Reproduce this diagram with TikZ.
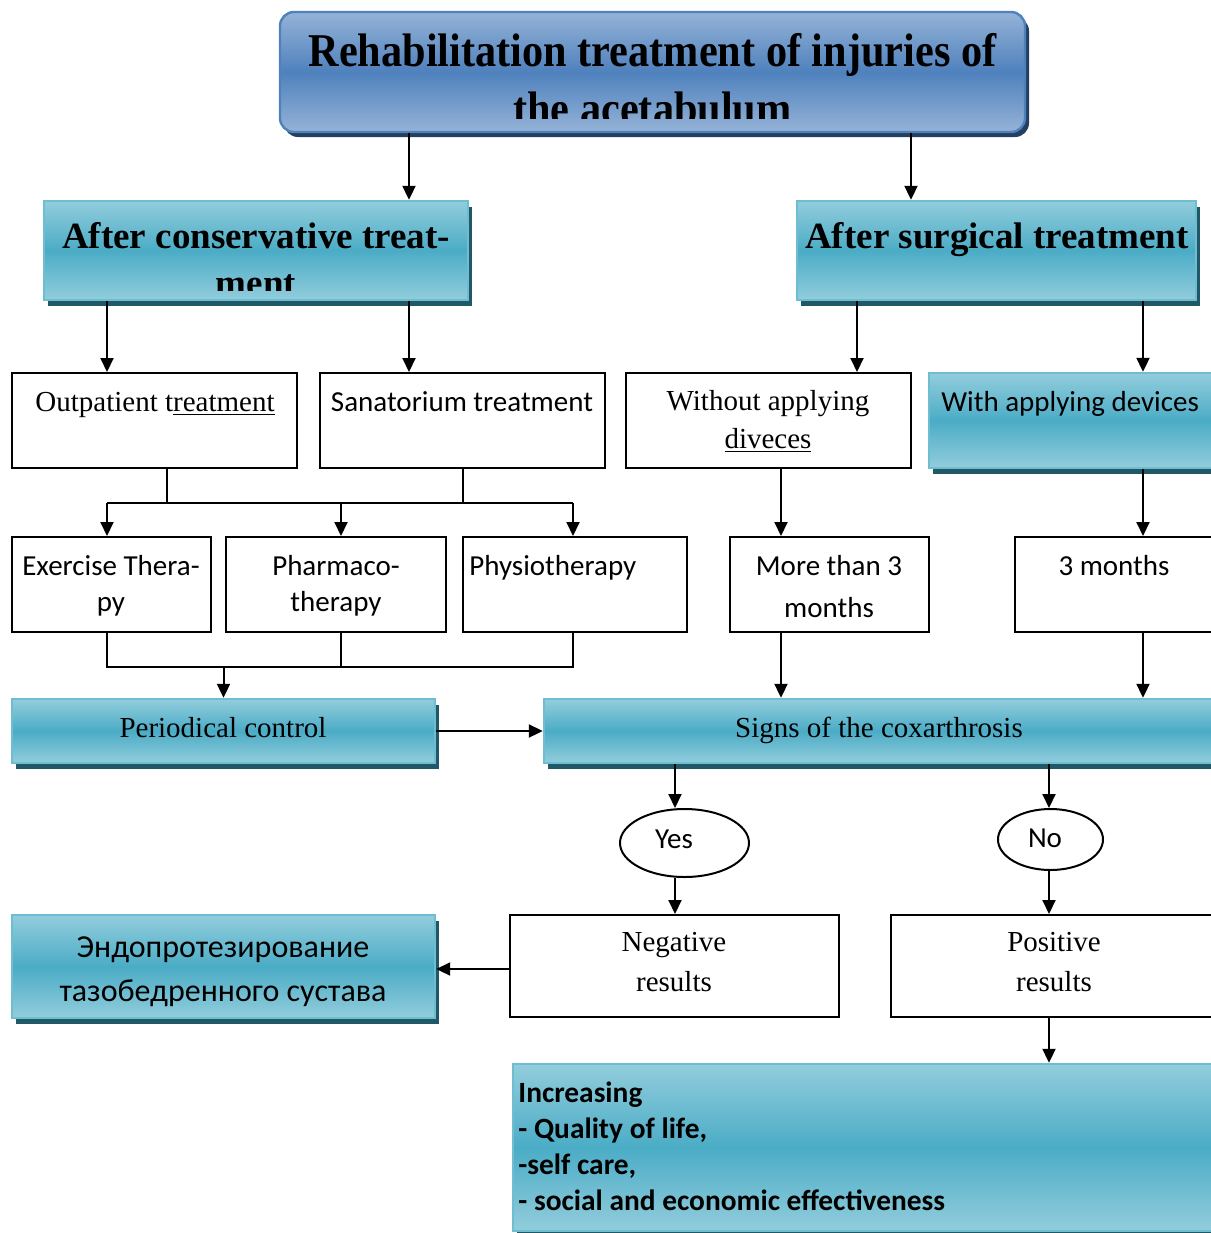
\documentclass[tikz,border=0pt]{standalone}
\usepackage{fontspec}
\setmainfont{Liberation Serif}
\newfontfamily\calfont{Carlito}
\newfontfamily\headfont[FakeStretch=0.9]{Liberation Serif}
\usetikzlibrary{arrows.meta,shapes.geometric,shadows}

\definecolor{blueL}{HTML}{95B3D7}
\definecolor{blueM}{HTML}{4F81BD}
\definecolor{blueD}{HTML}{243F60}
\definecolor{tealL}{HTML}{92CDDC}
\definecolor{tealM}{HTML}{4BACC6}
\definecolor{tealD}{HTML}{205867}

\begin{document}
\begin{tikzpicture}[x=0.5pt,y=-0.5pt]
  \tikzset{TitleStyle/.style = {shape          = rectangle,
                                rounded corners = 7pt,
                                draw           = blueM,
                                line width     = 1.2pt,
                                top color      = blueL,
                                bottom color   = blueL,
                                middle color   = blueM,
                                inner sep      = 0pt,
                                drop shadow    = {shadow xshift=2pt,shadow yshift=-2.5pt,
                                                  fill=blueD,opacity=1}}}
  \tikzset{TealStyle/.style  = {shape          = rectangle,
                                draw           = tealM!80!white,
                                line width     = 1.2pt,
                                top color      = tealL,
                                bottom color   = tealL,
                                middle color   = tealM,
                                inner sep      = 0pt,
                                drop shadow    = {shadow xshift=2pt,shadow yshift=-3pt,
                                                  fill=tealD,opacity=1}}}
  \tikzset{PlainStyle/.style = {shape          = rectangle,
                                draw           = black,
                                fill           = white,
                                line width     = 1pt,
                                inner sep      = 0pt}}
  \tikzset{OvalStyle/.style  = {shape          = ellipse,
                                draw           = black,
                                fill           = white,
                                line width     = 1pt,
                                inner sep      = 0pt}}
  \tikzset{SerifText/.style  = {anchor=base, inner sep=0pt,
                                font=\fontsize{14.5}{17}\selectfont}}
  \tikzset{SansText/.style   = {anchor=base, inner sep=0pt,
                                font=\calfont\fontsize{14.5}{17}\selectfont}}
  \tikzset{BoldSans/.style   = {anchor=base west, inner sep=0pt,
                                font=\calfont\bfseries\fontsize{14.7}{17}\selectfont}}
  \tikzset{HeadText/.style   = {anchor=base, inner sep=0pt,
                                font=\bfseries\fontsize{18.5}{22}\selectfont}}
  \tikzset{LineStyle/.style  = {line width=1pt}}
  \tikzset{ArrowStyle/.style = {line width=1pt,
                                -{Triangle[length=7pt,width=6.5pt]}}}

\clip (0,0) rectangle (1211,1233);

% boxes
\node[TitleStyle, minimum width=372.5pt, minimum height=60pt] (Title)   at (652.5,72)    {};
\node[TealStyle,  minimum width=212pt,   minimum height=49.5pt] (Consv) at (256,250.5)   {};
\node[TealStyle,  minimum width=199.5pt, minimum height=49.5pt] (Surg)  at (996.5,250.5) {};
\node[PlainStyle, minimum width=142.5pt, minimum height=47.5pt] (Outp)  at (154.5,420.5) {};
\node[PlainStyle, minimum width=142.5pt, minimum height=47.5pt] (Sanat) at (462.5,420.5) {};
\node[PlainStyle, minimum width=142.5pt, minimum height=47.5pt] (Without) at (768.5,420.5) {};
\node[TealStyle,  minimum width=148pt,   minimum height=47.5pt] (WithDev) at (1077,420.5) {};
\node[PlainStyle, minimum width=99.5pt,  minimum height=47.5pt] (Exer)  at (111.5,584.5) {};
\node[PlainStyle, minimum width=110pt,   minimum height=47.5pt] (Pharm) at (336,584.5)   {};
\node[PlainStyle, minimum width=112pt,   minimum height=47.5pt] (Physio) at (575,584.5)  {};
\node[PlainStyle, minimum width=99.5pt,  minimum height=47.5pt] (More3) at (829.5,584.5) {};
\node[PlainStyle, minimum width=105pt,   minimum height=47.5pt] (Three) at (1120,584.5)  {};
\node[TealStyle,  minimum width=211.5pt, minimum height=32pt]   (Period) at (223.5,731)  {};
\node[TealStyle,  minimum width=340.5pt, minimum height=32pt]   (Signs) at (884.5,731)   {};
\node[OvalStyle,  minimum width=64.5pt,  minimum height=34pt]   (Yes)   at (684.5,843)   {};
\node[OvalStyle,  minimum width=52.5pt,  minimum height=30.5pt] (No)    at (1050.5,839.5) {};
\node[PlainStyle, minimum width=164.5pt, minimum height=51pt]   (Neg)   at (674.5,966)   {};
\node[PlainStyle, minimum width=167pt,   minimum height=51pt]   (Pos)   at (1058,966)    {};
\node[TealStyle,  minimum width=211.5pt, minimum height=51.5pt] (Endo)  at (223.5,966.5) {};
\node[TealStyle,  minimum width=356pt,   minimum height=83.5pt] (Incr)  at (869,1147.5)  {};

% texts
\begin{scope}
  \clip (280,12) rectangle (1025,118);
  \node[anchor=base, inner sep=0pt, font=\headfont\bfseries\fontsize{23.5}{28}\selectfont]
    (TitleA) at (652.5,66) {Rehabilitation treatment of injuries of};
  \node[anchor=base, inner sep=0pt, font=\headfont\bfseries\fontsize{23.5}{28}\selectfont]
    (TitleB) at (652.5,124) {the acetabulum};
\end{scope}
\begin{scope}
  \clip (44,201) rectangle (468,290);
  \node[HeadText] (ConsvA) at (256,248) {After conservative treat-};
  \node[HeadText] (ConsvB) at (256,295) {ment};
\end{scope}
\node[HeadText] (SurgA) at (997,248) {After surgical treatment};

\node[SerifText] (OutpA)    at (155,411)  {Outpatient t\underline{reatment}};
\node[SansText]  (SanatA)   at (462,411)  {Sanatorium treatment};
\node[SerifText] (WithoutA) at (768,410)  {Without applying};
\node[SerifText] (WithoutB) at (768,448)  {\underline{diveces}};
\node[SansText, anchor=base west] (WithDevA) at (941,411) {With applying devices};
\node[SansText]  (ExerA)    at (111,575)  {Exercise Thera-};
\node[SansText]  (ExerB)    at (111,611)  {py};
\node[SansText]  (PharmA)   at (336,575)  {Pharmaco-};
\node[SansText]  (PharmB)   at (336,611)  {therapy};
\node[SansText, anchor=base west] (PhysioA) at (469,575) {Physiotherapy};
\node[SansText]  (More3A)   at (829,575)  {More than 3};
\node[SansText]  (More3B)   at (829,617)  {months};
\node[SansText]  (ThreeA)   at (1114,575) {3 months};
\node[SerifText] (PeriodA)  at (223,737)  {Periodical control};
\node[SerifText] (SignsA)   at (879,737)  {Signs of the coxarthrosis};
\node[SansText]  (YesA)     at (674,848)  {Yes};
\node[SansText]  (NoA)      at (1045,847) {No};
\node[SerifText] (NegA)     at (674,951)  {Negative};
\node[SerifText] (NegB)     at (674,991)  {results};
\node[SerifText] (PosA)     at (1054,951) {Positive};
\node[SerifText] (PosB)     at (1054,991) {results};
\node[SansText, font=\calfont\fontsize{16}{19}\selectfont] (EndoA) at (223,957)  {Эндопротезирование};
\node[SansText, font=\calfont\fontsize{16}{19}\selectfont] (EndoB) at (223,1001) {тазобедренного сустава};
\node[BoldSans] (IncrA) at (518,1102) {Increasing};
\node[BoldSans] (IncrB) at (518,1138) {- Quality of life,};
\node[BoldSans] (IncrC) at (518,1174) {-self care,};
\node[BoldSans] (IncrD) at (518,1210) {- social and economic effectiveness};

% connector columns
\coordinate (xA) at (409,0);
\coordinate (xB) at (911,0);
\coordinate (xL) at (107,0);
\coordinate (xO) at (167,0);
\coordinate (xP) at (341,0);
\coordinate (xS) at (857,0);
\coordinate (xR) at (1143,0);
\coordinate (xW) at (781,0);
\coordinate (xY) at (675,0);
\coordinate (xN) at (1049,0);
\coordinate (yE) at (0,969);
\coordinate (BusA) at (107,503);
\coordinate (BusB) at (573,503);
\coordinate (BusC) at (107,667);
\coordinate (BusD) at (573,667);

\draw[ArrowStyle] (Title.south -| xA) -- (Consv.north -| xA);
\draw[ArrowStyle] (Title.south -| xB) -- (Surg.north -| xB);
\draw[ArrowStyle] (Consv.south -| xL) -- (Outp.north -| xL);
\draw[ArrowStyle] (Consv.south -| xA) -- (Sanat.north -| xA);
\draw[ArrowStyle] (Surg.south -| xS) -- (Without.north -| xS);
\draw[ArrowStyle] (Surg.south -| xR) -- (WithDev.north -| xR);

\draw[LineStyle] (Outp.south -| xO) -- (BusA -| xO);
\draw[LineStyle] (Sanat.south) -- (Sanat.south |- BusA);
\draw[LineStyle] (BusA) -- (BusB);
\draw[ArrowStyle] (BusA) -- (Exer.north -| BusA);
\draw[ArrowStyle] (BusA -| xP) -- (Pharm.north -| xP);
\draw[ArrowStyle] (BusB) -- (Physio.north -| BusB);

\draw[LineStyle] (Exer.south -| BusC) -- (BusC) -- (BusD) -- (Physio.south -| BusD);
\draw[LineStyle] (Pharm.south -| xP) -- (BusC -| xP);
\draw[ArrowStyle] (Period.north |- BusC) -- (Period.north);
\draw[ArrowStyle] (Period.east) -- (Signs.west |- Period.east);

\draw[ArrowStyle] (Without.south -| xW) -- (More3.north -| xW);
\draw[ArrowStyle] (More3.south -| xW) -- (Signs.north -| xW);
\draw[ArrowStyle] (WithDev.south -| xR) -- (Three.north -| xR);
\draw[ArrowStyle] (Three.south -| xR) -- (Signs.north -| xR);

\draw[ArrowStyle] (Signs.south -| xY) -- (Yes.north -| xY);
\draw[ArrowStyle] (Yes.south -| xY) -- (Neg.north -| xY);
\draw[ArrowStyle] (Signs.south -| xN) -- (No.north -| xN);
\draw[ArrowStyle] (No.south -| xN) -- (Pos.north -| xN);
\draw[ArrowStyle] (Neg.west |- yE) -- (Endo.east |- yE);
\draw[ArrowStyle] (Pos.south -| xN) -- (Incr.north -| xN);
\end{tikzpicture}
\end{document}
